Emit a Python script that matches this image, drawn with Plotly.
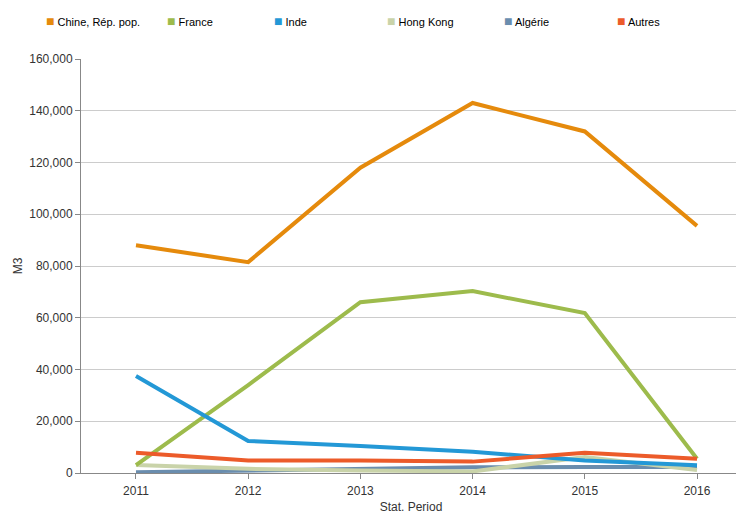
import plotly.graph_objects as go

years = [2011, 2012, 2013, 2014, 2015, 2016]
series_names = ["Chine, Rép. pop.", "France", "Inde", "Hong Kong", "Algérie", "Autres"]
chine = [88000, 81500, 118000, 143000, 132000, 95500]
france = [3000, 34000, 66000, 70300, 61800, 5500]
inde = [37500, 12400, 10400, 8200, 4800, 3000]
hong_kong = [3100, 1600, 1000, 600, 6200, 1200]
algerie = [300, 1000, 1600, 2200, 2300, 2300]
autres = [7800, 4800, 4800, 4400, 7800, 5500]
colors = ["#E58A0C", "#9DBB4C", "#2398D6", "#C9D3A9", "#6A8DAE", "#EC5B2A"]

values = [chine, france, inde, hong_kong, algerie, autres]
draw_order = [4, 3, 1, 2, 5, 0]

# page body has an 8px margin; figure sized/positioned to compensate
OFF = 8
W, H = 736, 506
L, R, T, B = 81 - OFF, 3, 59 - OFF, 41
pw, ph = W - L - R, H - T - B
legend_text_px = [46, 167, 274, 387, 504, 617]  # screen x where each legend entry text begins
legend_py = 22
FONT = "Liberation Sans, Arial, sans-serif"

fig = go.Figure()
for i in draw_order:
    fig.add_trace(go.Scatter(
        x=years, y=values[i], mode="lines", name=series_names[i],
        line=dict(color=colors[i], width=4), showlegend=False,
    ))
legends = {}
for i in range(len(series_names)):
    key = "legend" if i == 0 else f"legend{i + 1}"
    label = (f'<span style="color:{colors[i]};font-size:14px">■</span> '
             f'{series_names[i]}')
    fig.add_trace(go.Scatter(
        x=[None], y=[None], mode="markers", name=label,
        marker=dict(symbol="square", size=1, color="rgba(0,0,0,0)",
                    line=dict(width=0)),
        showlegend=True, legend=key,
    ))
    legends[key] = dict(
        orientation="h", x=(legend_text_px[i] - 40 - OFF - L) / pw, xanchor="left",
        y=1 + (T - (legend_py - OFF)) / ph, yanchor="middle", itemwidth=30,
        font=dict(size=11, color="#000000", family=FONT),
        bgcolor="rgba(0,0,0,0)",
    )

fig.update_layout(
    width=W, height=H,
    margin=dict(l=L, r=R, t=T, b=B, autoexpand=False),
    paper_bgcolor="white", plot_bgcolor="white",
    font=dict(family=FONT, size=12, color="#333333"),
    showlegend=True,
    xaxis=dict(range=[2010.51, 2016.392], tickmode="array", tickvals=years,
               ticktext=[str(y) for y in years], showgrid=False,
               showline=True, linecolor="#888888", linewidth=1,
               ticks="outside", ticklen=5, tickcolor="#888888",
               ticklabelstandoff=2,
               title=dict(text="Stat. Period", standoff=7, font=dict(size=12)),
               zeroline=False),
    yaxis=dict(range=[0, 160000], tickvals=list(range(0, 160001, 20000)),
               tickformat=",d", showgrid=True, gridcolor="#CCCCCC",
               showline=True, linecolor="#888888", linewidth=1,
               ticks="outside", ticklen=5, tickcolor="#888888",
               title=dict(text="M3", standoff=4, font=dict(size=12)),
               zeroline=False),
    **legends,
)

fig.write_html("out.html")
